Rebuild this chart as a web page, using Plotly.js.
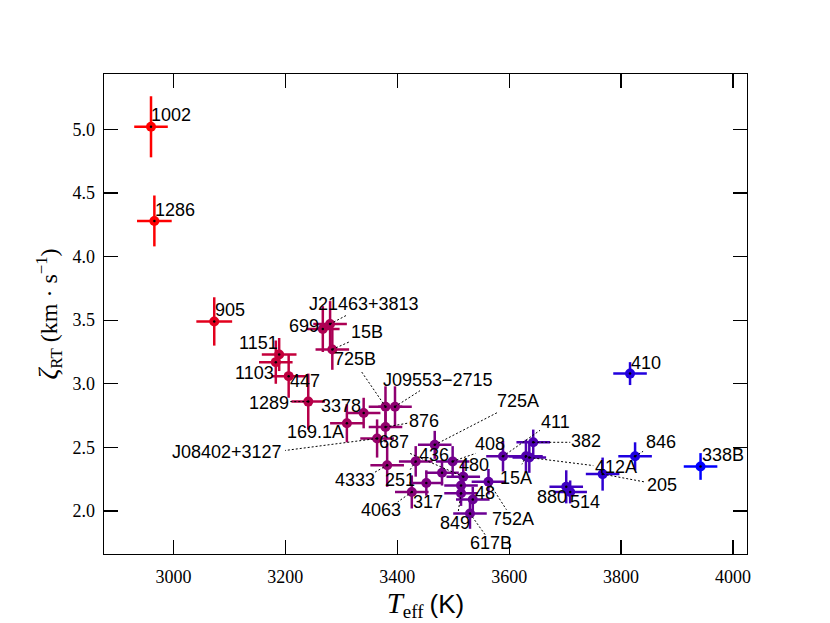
<!DOCTYPE html>
<html>
<head>
<meta charset="utf-8">
<script src="https://cdn.plot.ly/plotly-3.0.1.min.js"></script>
<style>
  body { margin: 0; background: #fff; }
  #chart { width: 830px; height: 623px; }
</style>
</head>
<body>
<div id="chart"></div>
<script>
// Star names, effective temperature (K) and zeta_RT (km/s)
const names = ['1002', '1286', '905', '699', 'J21463+3813', '15B', '1151', '1103', '447', '1289',
    '3378', '169.1A', '725B', 'J09553\u22122715', '876', 'J08402+3127', '4333', '725A', '251', '408',
    '436', '687', '317', '4063', '480', '849', '48', '617B', '752A', '411',
    '382', '15A', '412A', '205', '880', '514', '846', '410', '338B'];

const teff = [2960, 2966, 3073, 3267, 3280, 3284, 3189, 3183, 3206, 3241,
    3340, 3310, 3379, 3396, 3379, 3364, 3382, 3467, 3433, 3499,
    3480, 3518, 3452, 3426, 3514, 3514, 3535, 3530, 3563, 3589,
    3643, 3630, 3636, 3767, 3702, 3709, 3825, 3816, 3942];

const teffErr = [30, 31, 32, 30, 30, 30, 31, 30, 30, 30,
    30, 30, 30, 30, 30, 30, 30, 30, 30, 30,
    30, 30, 30, 30, 30, 30, 30, 30, 30, 30,
    30, 30, 30, 30, 30, 30, 30, 30, 30];

const zeta = [5.02, 4.28, 3.49, 3.43, 3.47, 3.27, 3.23, 3.17, 3.06, 2.86,
    2.77, 2.69, 2.82, 2.82, 2.66, 2.57, 2.36, 2.52, 2.39, 2.39,
    2.30, 2.27, 2.22, 2.15, 2.20, 2.14, 2.09, 1.98, 2.23, 2.43,
    2.54, 2.43, 2.42, 2.29, 2.19, 2.15, 2.43, 3.08, 2.35];

const zetaErr = [0.24, 0.20, 0.19, 0.18, 0.18, 0.16, 0.13, 0.17, 0.17, 0.22,
    0.12, 0.15, 0.16, 0.16, 0.12, 0.15, 0.17, 0.11, 0.12, 0.12,
    0.10, 0.12, 0.10, 0.13, 0.10, 0.10, 0.10, 0.12, 0.10, 0.12,
    0.10, 0.13, 0.12, 0.13, 0.13, 0.09, 0.11, 0.09, 0.105];

// Label placement: centre offset from the point in pixels (right, down)
const labelOffsets = [[20, -12], [21, -11], [16, -11], [-19, -3], [34, -20], [35, -17], [-21, -12], [-21, 11], [16, 5], [-39, 1],
    [-23, -7], [-31, 9], [-30, -48], [43, -27], [39, -6], [-150, 14], [-32, 15], [83, -44], [-16, 19], [37, -17],
    [-8, -18], [-69, -35], [2, 19], [-31, 18], [13, -21], [-6, 30], [12, -7], [21, 29], [25, 37], [52, -34],
    [53, -1], [-10, 22], [87, 9], [59, 11], [-14, 10], [15, 10], [26, -14], [16, -11], [22, -11]];

// Where the dotted leader stops (pixels from the point), null for no leader
const leaderEnds = [null, null, null, null, [17, -9], [18, -8], null, null, null, [-18, 0],
    null, null, [-24, -35], [25, -16], [23, -4], [-92, 12], [-14, 8], [64, -33], [-6, 9], [23, -8],
    null, [-55, -24], null, [-14, 10], null, [-3, 20], null, [15, 21], [18, 28], [37, -26],
    [37, 0], [-4, 8], [64, 8], [43, 8], null, null, [8, -5], null, null];

const xTicks = [3000, 3200, 3400, 3600, 3800, 4000];
const yTicks = [2.0, 2.5, 3.0, 3.5, 4.0, 4.5, 5.0];

// Colour runs linearly from red (coolest) to blue (hottest)
const tMin = Math.min(...teff);
const tMax = Math.max(...teff);
function colourFor(t) {
    const f = (t - tMin) / (tMax - tMin);
    return 'rgb(' + Math.round(255 * (1 - f)) + ',0,' + Math.round(255 * f) + ')';
}

let traces = [];
let annotations = [];
let shapes = [];

for (let i = 0; i < names.length; i++) {
    const col = colourFor(teff[i]);
    traces.push({
        x: [teff[i]],
        y: [zeta[i]],
        type: 'scatter',
        mode: 'markers',
        marker: {color: col, size: 10},
        error_x: {type: 'data', array: [teffErr[i]], color: col, thickness: 2.5, width: 0},
        error_y: {type: 'data', array: [zetaErr[i]], color: col, thickness: 2.5, width: 0},
        hoverinfo: 'text',
        text: [names[i]]
    });

    annotations.push({
        x: teff[i], y: zeta[i], xref: 'x', yref: 'y',
        text: names[i], showarrow: false,
        xanchor: 'center', yanchor: 'middle',
        xshift: labelOffsets[i][0], yshift: -labelOffsets[i][1],
        font: {family: 'Liberation Sans, Arial, sans-serif', size: 18, color: '#000'}
    });

    if (leaderEnds[i]) {
        shapes.push({
            type: 'line', xref: 'x', yref: 'y',
            xsizemode: 'pixel', ysizemode: 'pixel',
            xanchor: teff[i], yanchor: zeta[i],
            x0: 0, y0: 0, x1: leaderEnds[i][0], y1: -leaderEnds[i][1],
            line: {color: '#000', width: 1, dash: '2px,2px'}
        });
    }
}

// Small black dot at every point centre
traces.push({
    x: teff, y: zeta, type: 'scatter', mode: 'markers',
    marker: {color: '#000', size: 2.5}, hoverinfo: 'skip'
});

const serif = 'Liberation Serif, DejaVu Serif, serif';

const layout = {
    width: 830,
    height: 623,
    margin: {l: 104, r: 83, t: 74, b: 69},
    paper_bgcolor: '#fff',
    plot_bgcolor: '#fff',
    showlegend: false,
    font: {family: serif, color: '#000'},
    xaxis: {
        range: [2876, 4025],
        tickvals: xTicks,
        ticktext: xTicks.map(String),
        ticks: 'inside', ticklen: 14, tickwidth: 1.2, tickcolor: '#000',
        showline: true, linecolor: '#000', linewidth: 1.3, mirror: 'ticks',
        showgrid: false, zeroline: false,
        tickfont: {family: serif, size: 18, color: '#000'},
        ticklabelstandoff: 6,
        title: {
            text: '<span style="font-size:29px"><i>T</i></span><sub><span style="font-size:19px">eff</span></sub> <span style="font-family:Liberation Sans;font-size:26px">(K)</span>',
            font: {family: serif, size: 24, color: '#000'},
            standoff: 4
        }
    },
    yaxis: {
        range: [1.662, 5.435],
        tickvals: yTicks,
        ticktext: yTicks.map(v => v.toFixed(1)),
        ticks: 'inside', ticklen: 14, tickwidth: 1.2, tickcolor: '#000',
        showline: true, linecolor: '#000', linewidth: 1.3, mirror: 'ticks',
        showgrid: false, zeroline: false,
        tickfont: {family: serif, size: 18, color: '#000'},
        ticklabelstandoff: 4,
        title: {
            text: '<span style="font-size:27px"><i>\u03b6</i></span><sub>RT</sub> (km \u00b7 s<sup>\u22121</sup>)',
            font: {family: serif, size: 24, color: '#000'},
            standoff: 8
        }
    },
    annotations: annotations,
    shapes: shapes
};

Plotly.newPlot('chart', traces, layout, {displayModeBar: false, staticPlot: true});
</script>
</body>
</html>
